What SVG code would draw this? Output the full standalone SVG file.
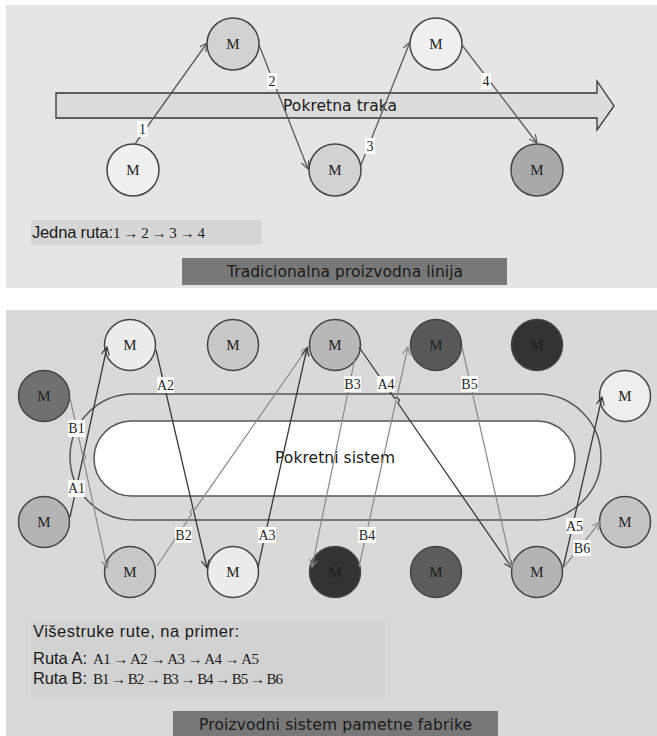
<svg xmlns="http://www.w3.org/2000/svg" width="657" height="736" viewBox="0 0 657 736">
<defs>
<style>
.nd{stroke:#444;stroke-width:1.5}
.m{font-family:"Liberation Serif",serif;font-size:15px;fill:#1e1e1e;text-anchor:middle}
.lb rect{fill:#fff}
.lb text{font-family:"Liberation Serif",serif;font-size:14px;fill:#1e1e1e;text-anchor:middle}
.cT{fill:none;stroke:#5a5a5a;stroke-width:1.3}
.cA{fill:none;stroke:#3a3a3a;stroke-width:1.3}
.cB{fill:none;stroke:#8a8a8a;stroke-width:1.2}
.sans{font-family:"Liberation Sans",Arial,sans-serif;font-size:16.5px;fill:#1a1a1a}
.ser{font-family:"Liberation Serif",serif;font-size:15px;fill:#1a1a1a}
.ttl{font-family:"DejaVu Sans",Verdana,sans-serif;font-size:15.5px;fill:#1a1a1a}
</style>
<marker id="aT" markerWidth="10" markerHeight="10" refX="8" refY="4" orient="auto" markerUnits="userSpaceOnUse"><path d="M0,0 L8,4 L0,8" fill="none" stroke="#5a5a5a" stroke-width="1.2"/></marker>
<marker id="aA" markerWidth="10" markerHeight="10" refX="8" refY="4" orient="auto" markerUnits="userSpaceOnUse"><path d="M0,0 L8,4 L0,8" fill="none" stroke="#3a3a3a" stroke-width="1.2"/></marker>
<marker id="aB" markerWidth="10" markerHeight="10" refX="8" refY="4" orient="auto" markerUnits="userSpaceOnUse"><path d="M0,0 L8,4 L0,8" fill="none" stroke="#8a8a8a" stroke-width="1.2"/></marker>
</defs>
<rect width="657" height="736" fill="#ffffff"/>
<!-- Top panel -->
<g id="top-panel">
<rect x="6" y="5" width="651" height="283" fill="#e5e5e5"/>
<polygon points="56,93 597,93 597,81 614,106 597,130 597,118 56,118" fill="#dcdcdc" stroke="#333" stroke-width="1.3"/>
<text class="ttl" x="283" y="111" textLength="114">Pokretna traka</text>
<rect x="31" y="220" width="231" height="25" fill="#d6d6d6"/>
<text class="sans" x="32" y="238" textLength="81">Jedna ruta:</text>
<text class="ser" x="113" y="238" textLength="92">1 → 2 → 3 → 4</text>
<rect x="182" y="258" width="325" height="27" fill="#787878"/>
<text class="ttl" x="227" y="277" textLength="236">Tradicionalna proizvodna linija</text>
</g>
<g id="top-nodes">
<g id="t1"><circle class="nd" cx="133" cy="170" r="26" fill="#f0f0f0"/><text class="m" x="133" y="175">M</text></g>
<g id="t2"><circle class="nd" cx="233" cy="44" r="26" fill="#d2d2d2"/><text class="m" x="233" y="49">M</text></g>
<g id="t3"><circle class="nd" cx="335" cy="170" r="26" fill="#d2d2d2"/><text class="m" x="335" y="175">M</text></g>
<g id="t4"><circle class="nd" cx="436" cy="44" r="26" fill="#f0f0f0"/><text class="m" x="436" y="49">M</text></g>
<g id="t5"><circle class="nd" cx="537" cy="170" r="26" fill="#a9a9a9"/><text class="m" x="537" y="175">M</text></g>
</g>
<g id="top-connectors">
<path class="cT" d="M135,144 L207,43" marker-end="url(#aT)"/>
<path class="cT" d="M259,45 L308,169" marker-end="url(#aT)"/>
<path class="cT" d="M361,165 L410,42" marker-end="url(#aT)"/>
<path class="cT" d="M462,45 L537,143" marker-end="url(#aT)"/>
<g class="lb"><rect x="137.5" y="121" width="10" height="16"/><text x="142.5" y="134">1</text></g>
<g class="lb"><rect x="267" y="73" width="10" height="16"/><text x="272" y="86">2</text></g>
<g class="lb"><rect x="365" y="138" width="10" height="16"/><text x="370" y="151">3</text></g>
<g class="lb"><rect x="481" y="73" width="10" height="16"/><text x="486" y="86">4</text></g>
</g>
<!-- Bottom panel -->
<g id="bottom-panel">
<rect x="6" y="310" width="651" height="426" fill="#d9d9d9"/>
<rect x="70" y="394" width="531" height="126" rx="63" ry="63" fill="#d9d9d9" stroke="#555" stroke-width="1.5"/>
<rect x="94" y="421" width="481" height="75" rx="37.5" ry="37.5" fill="#ffffff" stroke="#555" stroke-width="1.5"/>
<text class="ttl" x="275" y="463" textLength="120">Pokretni sistem</text>
<rect x="31" y="621" width="354" height="77" fill="#d2d2d2"/>
<text class="sans" x="33" y="637" textLength="206">Višestruke rute, na primer:</text>
<text class="sans" x="33" y="664" textLength="54">Ruta A:</text>
<text class="ser" x="93" y="664" textLength="166">A1 → A2 → A3 → A4 → A5</text>
<text class="sans" x="33" y="684" textLength="54">Ruta B:</text>
<text class="ser" x="93" y="684" textLength="190">B1 → B2 → B3 → B4 → B5 → B6</text>
<rect x="173" y="711" width="325" height="25" fill="#787878"/>
<text class="ttl" x="199" y="730" textLength="273">Proizvodni sistem pametne fabrike</text>
</g>
<g id="bottom-nodes">
<g id="n-top1"><circle class="nd" cx="130" cy="345" r="25.5" fill="#ececec"/><text class="m" x="130" y="350">M</text></g>
<g id="n-top2"><circle class="nd" cx="233" cy="345" r="25.5" fill="#c8c8c8"/><text class="m" x="233" y="350">M</text></g>
<g id="n-top3"><circle class="nd" cx="335" cy="345" r="25.5" fill="#b8b8b8"/><text class="m" x="335" y="350">M</text></g>
<g id="n-top4"><circle class="nd" cx="436" cy="345" r="25.5" fill="#585858"/><text class="m" x="436" y="350">M</text></g>
<g id="n-top5"><circle class="nd" cx="537" cy="345" r="25.5" fill="#333333"/><text class="m" x="537" y="350">M</text></g>
<g id="n-left1"><circle class="nd" cx="44" cy="396" r="25.5" fill="#707070"/><text class="m" x="44" y="401">M</text></g>
<g id="n-left2"><circle class="nd" cx="44" cy="522" r="25.5" fill="#b4b4b4"/><text class="m" x="44" y="527">M</text></g>
<g id="n-right1"><circle class="nd" cx="625" cy="396" r="25.5" fill="#eeeeee"/><text class="m" x="625" y="401">M</text></g>
<g id="n-right2"><circle class="nd" cx="625" cy="522" r="25.5" fill="#c4c4c4"/><text class="m" x="625" y="527">M</text></g>
<g id="n-bot1"><circle class="nd" cx="130" cy="572" r="25.5" fill="#c8c8c8"/><text class="m" x="130" y="577">M</text></g>
<g id="n-bot2"><circle class="nd" cx="233" cy="572" r="25.5" fill="#ececec"/><text class="m" x="233" y="577">M</text></g>
<g id="n-bot3"><circle class="nd" cx="335" cy="572" r="25.5" fill="#333333"/><text class="m" x="335" y="577">M</text></g>
<g id="n-bot4"><circle class="nd" cx="436" cy="572" r="25.5" fill="#5c5c5c"/><text class="m" x="436" y="577">M</text></g>
<g id="n-bot5"><circle class="nd" cx="537" cy="572" r="25.5" fill="#b4b4b4"/><text class="m" x="537" y="577">M</text></g>
</g>
<g id="bottom-connectors">
<path class="cA" d="M70,517 L107,347" marker-end="url(#aA)"/>
<path class="cB" d="M70,398 L82.4,454.1 A3,3 0 0 1 83.6,459.9 L107,568" marker-end="url(#aB)"/>
<path class="cA" d="M156,350 L207,568" marker-end="url(#aA)"/>
<path class="cB" d="M157,566 L191.7,514.2 A3,3 0 0 1 195.1,509.2 L308,347" marker-end="url(#aB)"/>
<path class="cA" d="M258,567 L307,348" marker-end="url(#aA)"/>
<path class="cB" d="M355,358 L312,567" marker-end="url(#aB)"/>
<path class="cA" d="M359,347 L394.4,398 A3,3 0 0 1 397.8,403 L512,568" marker-end="url(#aA)"/>
<path class="cB" d="M359,567 L408,347" marker-end="url(#aB)"/>
<path class="cB" d="M462,347 L512,568" marker-end="url(#aB)"/>
<path class="cA" d="M563,568 L602,397" marker-end="url(#aA)"/>
<path class="cB" d="M563,568 L600,522" marker-end="url(#aB)"/>
<g class="lb"><rect x="68" y="420" width="17" height="17"/><text x="76.5" y="433">B1</text></g>
<g class="lb"><rect x="68" y="480" width="17" height="17"/><text x="76.5" y="493">A1</text></g>
<g class="lb"><rect x="157" y="377" width="17" height="16"/><text x="165.5" y="390">A2</text></g>
<g class="lb"><rect x="175" y="527" width="17" height="16"/><text x="183.5" y="540">B2</text></g>
<g class="lb"><rect x="258" y="527" width="18" height="16"/><text x="267" y="540">A3</text></g>
<g class="lb"><rect x="344" y="376" width="17" height="16"/><text x="352.5" y="389">B3</text></g>
<g class="lb"><rect x="377" y="376" width="18" height="16"/><text x="386" y="389">A4</text></g>
<g class="lb"><rect x="358" y="527" width="18" height="16"/><text x="367" y="540">B4</text></g>
<g class="lb"><rect x="461" y="376" width="17" height="16"/><text x="469.5" y="389">B5</text></g>
<g class="lb"><rect x="566" y="518" width="17" height="16"/><text x="574.5" y="531">A5</text></g>
<g class="lb"><rect x="573" y="540" width="18" height="16"/><text x="582" y="553">B6</text></g>
</g>
</svg>
